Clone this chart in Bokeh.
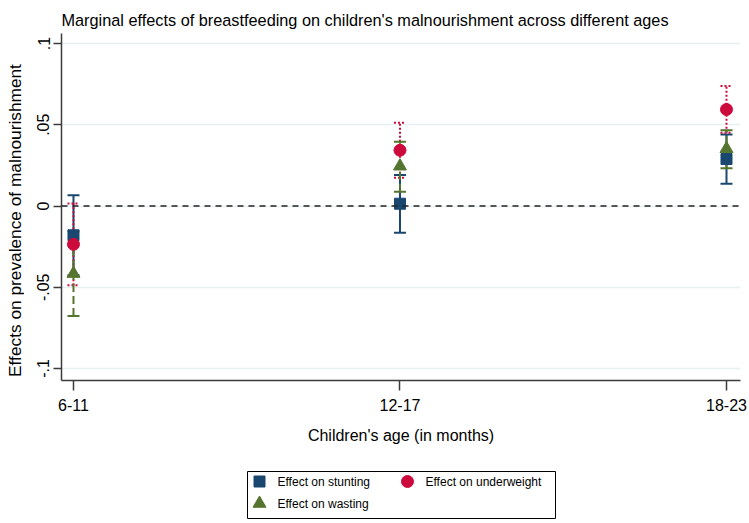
import math
from bokeh.plotting import figure
from bokeh.models import Range1d, FixedTicker, Span, ColumnDataSource, Spacer
from bokeh.layouts import column, row
from bokeh.embed import file_html
from bokeh.resources import INLINE
from bokeh.core.properties import value

# ---------------- data ----------------
title_text = "Marginal effects of breastfeeding on children's malnourishment across different ages"
y_title = "Effects on prevalence of malnourishment"
x_title = "Children's age (in months)"
ages = ["6-11", "12-17", "18-23"]
age_pos = [1, 2, 3]

stunting = [-0.0180, 0.0014, 0.0289]
stunting_lo = [-0.0426, -0.0164, 0.0137]
stunting_hi = [0.0066, 0.0190, 0.0440]

underweight = [-0.0236, 0.0343, 0.0594]
underweight_lo = [-0.0488, 0.0174, 0.0450]
underweight_hi = [0.0016, 0.0512, 0.0738]

wasting = [-0.0416, 0.0245, 0.0352]
wasting_lo = [-0.0677, 0.0088, 0.0232]
wasting_hi = [-0.0155, 0.0395, 0.0466]

y_ticks = [-0.1, -0.05, 0.0, 0.05, 0.1]
y_tick_labels = ["-.1", "-.05", "0", ".05", ".1"]

series = [
    dict(name="Effect on stunting", est=stunting, lo=stunting_lo, hi=stunting_hi,
         color="#1a476f", marker="square", size=11, dash="solid", cap_dash="solid"),
    dict(name="Effect on underweight", est=underweight, lo=underweight_lo, hi=underweight_hi,
         color="#cc0a3c", marker="circle", size=12, dash="2 2", cap_dash="2 2"),
    dict(name="Effect on wasting", est=wasting, lo=wasting_lo, hi=wasting_hi,
         color="#55752f", marker="triangle", size=13, dash="8 4", cap_dash="solid"),
]

FONT = "Liberation Sans"
W = 749
TOP_H = 33
MAIN_H = 450 - TOP_H
BOTTOM_B = 70
FRAME_H = MAIN_H - BOTTOM_B
YT_W = 24


def blank_panel(width, height, border=0):
    f = figure(width=width, height=height, title=None,
               x_range=Range1d(0, width - 2 * border), y_range=Range1d(0, height - 2 * border),
               min_border=border, toolbar_location=None, output_backend="svg")
    f.axis.visible = False
    f.grid.visible = False
    f.outline_line_color = None
    f.background_fill_color = "white"
    f.border_fill_color = "white"
    return f


# ---------------- title strip ----------------
tp = blank_panel(W, TOP_H)
tp.text(x=[61], y=[TOP_H - 19.5], text=[title_text], text_font=value(FONT),
        text_font_size=value("16.3px"), text_baseline="alphabetic", text_align="left",
        text_color="black")

# ---------------- y-axis title strip (frame aligned with main frame) ----------------
yt = blank_panel(YT_W, MAIN_H)
yt.min_border_bottom = BOTTOM_B
yt.y_range = Range1d(0, FRAME_H)
yt.text(x=[14.5], y=[FRAME_H - (220 - TOP_H)], text=[y_title], angle=math.pi / 2,
        text_font=value(FONT), text_font_size=value("17.3px"),
        text_baseline="middle", text_align="center", text_color="black")

# ---------------- main plot ----------------
p = figure(width=W - YT_W, height=MAIN_H, title=None,
           x_range=Range1d(0.9633, 3.0429), y_range=Range1d(-0.10738, 0.10615),
           min_border_left=61 - YT_W, min_border_right=9, min_border_top=0,
           min_border_bottom=BOTTOM_B,
           toolbar_location=None, output_backend="svg")
p.background_fill_color = "white"
p.border_fill_color = "white"
p.outline_line_color = None

# x axis
p.xaxis.ticker = FixedTicker(ticks=age_pos)
p.xaxis.major_label_overrides = {pos: lab for pos, lab in zip(age_pos, ages)}
p.xaxis.axis_label = x_title
p.xaxis.major_tick_out = 10
p.xaxis.major_label_standoff = 8
p.xaxis.axis_label_standoff = 13
p.xaxis.axis_label_text_font_size = "16px"
p.xaxis.major_label_text_font_size = "16px"

# y axis
p.yaxis.ticker = FixedTicker(ticks=y_ticks)
p.yaxis.major_label_overrides = {t: lab for t, lab in zip(y_ticks, y_tick_labels)}
p.yaxis.major_label_orientation = "vertical"
p.yaxis.major_tick_out = 8
p.yaxis.major_label_standoff = 4
p.yaxis.major_label_text_font_size = "16px"

for ax in (p.xaxis[0], p.yaxis[0]):
    ax.major_tick_in = 0
    ax.minor_tick_out = 0
    ax.minor_tick_in = 0
    ax.axis_line_color = "#3c3c3c"
    ax.axis_line_width = 1.5
    ax.major_tick_line_color = "#3c3c3c"
    ax.major_tick_line_width = 1.5
    ax.major_label_text_font = FONT
    ax.major_label_text_color = "black"
    ax.axis_label_text_font = FONT
    ax.axis_label_text_font_style = "normal"
    ax.axis_label_text_color = "black"

p.xgrid.visible = False
p.ygrid.ticker = FixedTicker(ticks=y_ticks)
p.ygrid.grid_line_color = "#e6eff1"
p.ygrid.grid_line_width = 1.5

p.add_layout(Span(location=0, dimension="width", line_color="#222222",
                  line_width=1.3, line_dash="6 5"))

# confidence intervals
for s in series:
    src = ColumnDataSource(dict(x=age_pos, y=s["est"], lo=s["lo"], hi=s["hi"]))
    p.segment(x0="x", y0="lo", x1="x", y1="hi", source=src,
              line_color=s["color"], line_width=2, line_dash=s["dash"])
    p.scatter(x="x", y="lo", source=src, marker="dash", size=12,
              line_color=s["color"], line_width=2, line_dash=s["cap_dash"])
    p.scatter(x="x", y="hi", source=src, marker="dash", size=12,
              line_color=s["color"], line_width=2, line_dash=s["cap_dash"])

# point estimates
for s in series:
    src = ColumnDataSource(dict(x=age_pos, y=s["est"]))
    p.scatter(x="x", y="y", source=src, marker=s["marker"], size=s["size"],
              fill_color=s["color"], line_color=s["color"], line_width=1)

# ---------------- legend (separate small panel) ----------------
LW, LH = 310, 49
lg = blank_panel(LW, LH, border=1)
lg.outline_line_color = "black"
lg.outline_line_width = 1

col_pitch, row_pitch = 148, 22
gx0, gy0, text_gap = 12, 10, 18
for i, s in enumerate(series):
    c, r = i % 2, i // 2
    gx = gx0 + c * col_pitch
    gy = (LH - 2) - (gy0 + r * row_pitch)
    lg.scatter(x=[gx], y=[gy], marker=s["marker"], size=s["size"],
               fill_color=s["color"], line_color=s["color"])
    lg.text(x=[gx + text_gap], y=[gy], text=[s["name"]], text_font=value(FONT),
            text_font_size=value("12px"), text_baseline="middle", text_align="left",
            text_color="black")

layout = column(row(tp), row(yt, p), Spacer(height=20), row(Spacer(width=246), lg))

open("out.html", "w").write(file_html(layout, INLINE))
